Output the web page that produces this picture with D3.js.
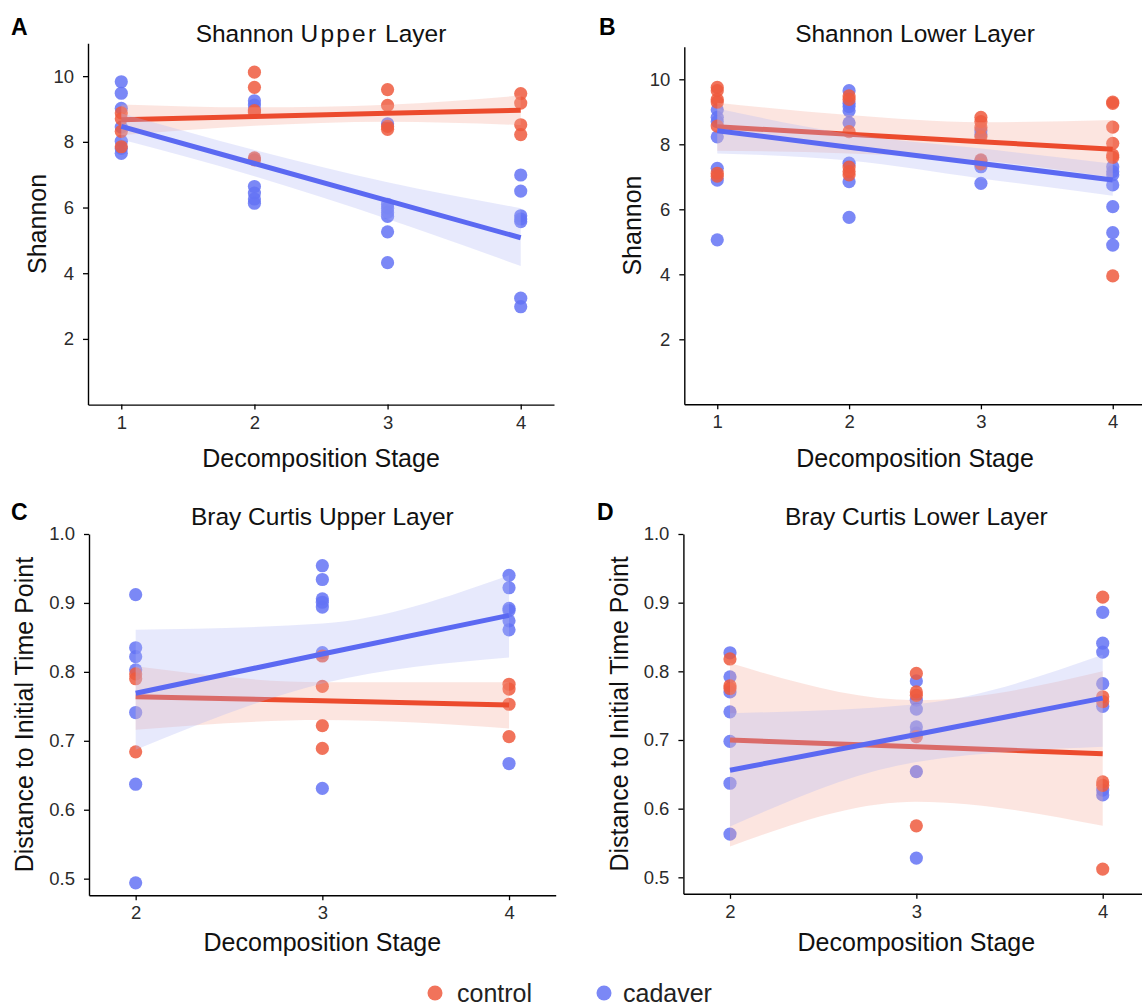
<!DOCTYPE html>
<html>
<head>
<meta charset="utf-8">
<script src="https://cdn.jsdelivr.net/npm/d3@7"></script>
<style>
  html, body { margin: 0; padding: 0; background: #fff; }
  svg { display: block; font-family: "Liberation Sans", Arial, Helvetica, sans-serif; }
</style>
</head>
<body>
<svg id="chart" width="1142" height="1006"></svg>
<script>
// ---- Data: [decomposition stage, value] per sample ----
const shannonUpperControl = [
  [1, 8.88], [1, 8.70], [1, 8.32], [1, 7.85],
  [2, 10.12], [2, 9.66], [2, 8.95], [2, 8.90], [2, 7.51], [2, 7.45],
  [3, 9.59], [3, 9.11], [3, 8.47], [3, 8.38],
  [4, 9.47], [4, 9.18], [4, 8.52], [4, 8.22]
];
const shannonUpperCadaver = [
  [1, 9.83], [1, 9.48], [1, 9.02], [1, 8.45], [1, 8.02], [1, 7.80], [1, 7.65],
  [2, 9.25], [2, 9.12], [2, 8.98], [2, 6.64], [2, 6.44], [2, 6.26], [2, 6.13],
  [3, 8.55], [3, 6.10], [3, 5.98], [3, 5.85], [3, 5.73], [3, 5.26], [3, 4.32],
  [4, 6.99], [4, 6.50], [4, 5.75], [4, 5.65], [4, 5.57], [4, 3.24], [4, 2.98]
];
const shannonLowerControl = [
  [1, 9.75], [1, 9.65], [1, 9.38], [1, 9.30], [1, 8.56], [1, 7.11], [1, 7.02],
  [2, 9.49], [2, 9.38], [2, 8.39], [2, 7.30], [2, 7.16], [2, 7.06],
  [3, 8.83], [3, 8.70], [3, 8.52], [3, 8.23], [3, 7.52], [3, 7.40],
  [4, 9.30], [4, 9.26], [4, 8.53], [4, 8.03], [4, 7.67], [4, 7.60], [4, 3.95]
];
const shannonLowerCadaver = [
  [1, 9.06], [1, 8.83], [1, 8.70], [1, 8.23], [1, 7.26], [1, 6.90], [1, 5.06],
  [2, 9.65], [2, 9.26], [2, 9.16], [2, 9.03], [2, 8.66], [2, 7.42], [2, 6.85], [2, 5.75],
  [3, 8.42], [3, 8.30], [3, 7.50], [3, 7.31], [3, 6.80],
  [4, 7.31], [4, 7.16], [4, 7.06], [4, 6.75], [4, 6.08], [4, 5.28], [4, 4.90]
];
const brayUpperControl = [
  [2, 0.797], [2, 0.790], [2, 0.684],
  [3, 0.823], [3, 0.779], [3, 0.722], [3, 0.689],
  [4, 0.782], [4, 0.775], [4, 0.753], [4, 0.706]
];
const brayUpperCadaver = [
  [2, 0.912], [2, 0.835], [2, 0.822], [2, 0.803], [2, 0.741], [2, 0.637], [2, 0.494],
  [3, 0.954], [3, 0.934], [3, 0.906], [3, 0.901], [3, 0.894], [3, 0.828], [3, 0.631],
  [4, 0.940], [4, 0.922], [4, 0.892], [4, 0.889], [4, 0.874], [4, 0.861], [4, 0.667]
];
const brayLowerControl = [
  [2, 0.818], [2, 0.779], [2, 0.775],
  [3, 0.797], [3, 0.770], [3, 0.765], [3, 0.705], [3, 0.575],
  [4, 0.908], [4, 0.763], [4, 0.756], [4, 0.639], [4, 0.634], [4, 0.512]
];
const brayLowerCadaver = [
  [2, 0.827], [2, 0.792], [2, 0.770], [2, 0.741], [2, 0.698], [2, 0.637], [2, 0.563],
  [3, 0.786], [3, 0.758], [3, 0.745], [3, 0.719], [3, 0.710], [3, 0.654], [3, 0.528],
  [4, 0.886], [4, 0.841], [4, 0.828], [4, 0.782], [4, 0.749], [4, 0.627], [4, 0.620]
];

// ---- Linear fits with 95% confidence band, evaluated at each stage ----
const shannonStages = [1, 2, 3, 4];
const brayStages = [2, 3, 4];

const shannonUpperFitCtrl = { fit: [8.67, 8.77, 8.87, 8.96], lo: [8.20, 8.49, 8.61, 8.51], hi: [9.14, 9.05, 9.13, 9.41] };
const shannonUpperFitCad  = { fit: [8.47, 7.34, 6.21, 5.08], lo: [8.07, 6.95, 5.65, 4.22], hi: [8.87, 7.75, 6.77, 5.98] };
const shannonLowerFitCtrl = { fit: [8.54, 8.31, 8.08, 7.85], lo: [7.80, 7.72, 7.50, 6.98], hi: [9.28, 8.90, 8.68, 8.75] };
const shannonLowerFitCad  = { fit: [8.42, 7.91, 7.41, 6.90], lo: [7.72, 7.50, 6.95, 6.42], hi: [9.10, 8.32, 7.87, 7.40] };
const brayUpperFitCtrl = { fit: [0.764, 0.758, 0.752], lo: [0.716, 0.730, 0.718], hi: [0.808, 0.785, 0.785] };
const brayUpperFitCad  = { fit: [0.769, 0.826, 0.882], lo: [0.687, 0.783, 0.821], hi: [0.861, 0.870, 0.940] };
const brayLowerFitCtrl = { fit: [0.700, 0.690, 0.680], lo: [0.545, 0.610, 0.575], hi: [0.812, 0.758, 0.800] };
const brayLowerFitCad  = { fit: [0.656, 0.708, 0.761], lo: [0.574, 0.668, 0.690], hi: [0.739, 0.752, 0.824] };

// ---- Tick labels ----
const shannonTicks = [2, 4, 6, 8, 10];
const brayTicks = [0.5, 0.6, 0.7, 0.8, 0.9, 1.0];

const groups = ["control", "cadaver"];

// ---- Styling ----
const COLORS = {
  control: { point: "#EE5A3E", line: "#EC4B2D", band: "#F6A898" },
  cadaver: { point: "#6473F4", line: "#5B69F2", band: "#AEB6F4" }
};

const panels = [
  {
    letter: "A", title: ["Shannon ", "Upper", " Layer"], ylabel: "Shannon",
    control: shannonUpperControl, cadaver: shannonUpperCadaver,
    fitControl: shannonUpperFitCtrl, fitCadaver: shannonUpperFitCad,
    stages: shannonStages, yTicks: shannonTicks, yFmt: d3.format("d"),
    xDomain: [0.75, 4.25], yDomain: [0, 11],
    xRange: [88, 554], yRange: [404.6, 43.3],
    letterPos: [11, 35], titleY: 42, ylabX: 46, xlabY: 467
  },
  {
    letter: "B", title: ["Shannon Lower Layer"], ylabel: "Shannon",
    control: shannonLowerControl, cadaver: shannonLowerCadaver,
    fitControl: shannonLowerFitCtrl, fitCadaver: shannonLowerFitCad,
    stages: shannonStages, yTicks: shannonTicks, yFmt: d3.format("d"),
    xDomain: [0.75, 4.25], yDomain: [0, 11],
    xRange: [684.3, 1145.7], yRange: [404.3, 46.8],
    letterPos: [599, 35], titleY: 42, ylabX: 641, xlabY: 467
  },
  {
    letter: "C", title: ["Bray Curtis Upper Layer"], ylabel: "Distance to Initial Time Point",
    control: brayUpperControl, cadaver: brayUpperCadaver,
    fitControl: brayUpperFitCtrl, fitCadaver: brayUpperFitCad,
    stages: brayStages, yTicks: brayTicks, yFmt: d3.format(".1f"),
    xDomain: [1.75, 4.25], yDomain: [0.476, 1.0],
    xRange: [89, 555.7], yRange: [895.2, 534],
    letterPos: [11, 520], titleY: 525, ylabX: 33, xlabY: 951
  },
  {
    letter: "D", title: ["Bray Curtis Lower Layer"], ylabel: "Distance to Initial Time Point",
    control: brayLowerControl, cadaver: brayLowerCadaver,
    fitControl: brayLowerFitCtrl, fitCadaver: brayLowerFitCad,
    stages: brayStages, yTicks: brayTicks, yFmt: d3.format(".1f"),
    xDomain: [1.75, 4.25], yDomain: [0.476, 1.0],
    xRange: [683.4, 1149.3], yRange: [893.8, 534],
    letterPos: [597, 520], titleY: 525, ylabX: 628, xlabY: 951
  }
];

const svg = d3.select("#chart");

panels.forEach(p => {
  const x = d3.scaleLinear().domain(p.xDomain).range(p.xRange);
  const y = d3.scaleLinear().domain(p.yDomain).range(p.yRange);
  const g = svg.append("g");
  const cx = (p.xRange[0] + p.xRange[1]) / 2;
  const cy = (p.yRange[0] + p.yRange[1]) / 2;

  // points: cadaver underneath, control on top
  const pts = g.append("g");
  [["cadaver", p.cadaver], ["control", p.control]].forEach(([grp, data]) => {
    pts.selectAll(null).data(data).enter().append("circle")
      .attr("cx", d => x(d[0]))
      .attr("cy", d => y(d[1]))
      .attr("r", 6.6)
      .attr("fill", COLORS[grp].point)
      .attr("fill-opacity", 0.85);
  });

  // smoothers: confidence ribbon + fitted line per group
  [["control", p.fitControl], ["cadaver", p.fitCadaver]].forEach(([grp, f]) => {
    const rows = p.stages.map((s, i) => ({ s, fit: f.fit[i], lo: f.lo[i], hi: f.hi[i] }));
    const area = d3.area()
      .x(d => x(d.s)).y0(d => y(d.lo)).y1(d => y(d.hi))
      .curve(d3.curveMonotoneX);
    g.append("path").datum(rows)
      .attr("d", area)
      .attr("fill", COLORS[grp].band)
      .attr("fill-opacity", 0.3);
    const line = d3.line().x(d => x(d.s)).y(d => y(d.fit));
    g.append("path").datum(rows)
      .attr("d", line)
      .attr("fill", "none")
      .attr("stroke", COLORS[grp].line)
      .attr("stroke-width", 5);
  });

  // axes
  const xAxis = d3.axisBottom(x).tickValues(p.stages).tickFormat(d3.format("d"))
    .tickSize(5).tickSizeOuter(0).tickPadding(6);
  const yAxis = d3.axisLeft(y).tickValues(p.yTicks).tickFormat(p.yFmt)
    .tickSize(5).tickSizeOuter(0).tickPadding(9);

  const gx = g.append("g").attr("transform", `translate(0,${p.yRange[0]})`).call(xAxis);
  const gy = g.append("g").attr("transform", `translate(${p.xRange[0]},0)`).call(yAxis);
  [gx, gy].forEach(ax => {
    ax.select(".domain").attr("stroke", "#000").attr("stroke-width", 1.4);
    ax.selectAll(".tick line").attr("stroke", "#000").attr("stroke-width", 1.3);
    ax.selectAll(".tick text").attr("fill", "#2b2b2b")
      .style("font-size", "18.5px")
      .style("font-family", "'Liberation Sans', Arial, sans-serif");
  });

  // titles and labels
  const t = g.append("text")
    .attr("x", cx).attr("y", p.titleY)
    .attr("text-anchor", "middle")
    .style("font-size", "24.5px").attr("fill", "#111");
  p.title.forEach(part => {
    const ts = t.append("tspan").text(part);
    if (part === "Upper" && p.letter === "A") ts.attr("letter-spacing", "2.2px");
  });

  g.append("text")
    .attr("x", p.letterPos[0]).attr("y", p.letterPos[1])
    .style("font-size", "23px").style("font-weight", "bold").attr("fill", "#000")
    .text(p.letter);

  g.append("text")
    .attr("x", cx).attr("y", p.xlabY)
    .attr("text-anchor", "middle")
    .style("font-size", "25px").attr("fill", "#111")
    .text("Decomposition Stage");

  g.append("text")
    .attr("transform", `translate(${p.ylabX},${cy}) rotate(-90)`)
    .attr("text-anchor", "middle")
    .style("font-size", "25px").attr("fill", "#111")
    .text(p.ylabel);
});

// legend
const legendItems = [
  { key: groups[0], cx: 435, tx: 457 },
  { key: groups[1], cx: 604, tx: 623 }
];
const lg = svg.append("g");
legendItems.forEach(it => {
  lg.append("circle").attr("cx", it.cx).attr("cy", 993).attr("r", 7.5)
    .attr("fill", COLORS[it.key].point).attr("fill-opacity", 0.85);
  lg.append("text").attr("x", it.tx).attr("y", 1002)
    .style("font-size", "25px").attr("fill", "#222").text(it.key);
});
</script>
</body>
</html>
